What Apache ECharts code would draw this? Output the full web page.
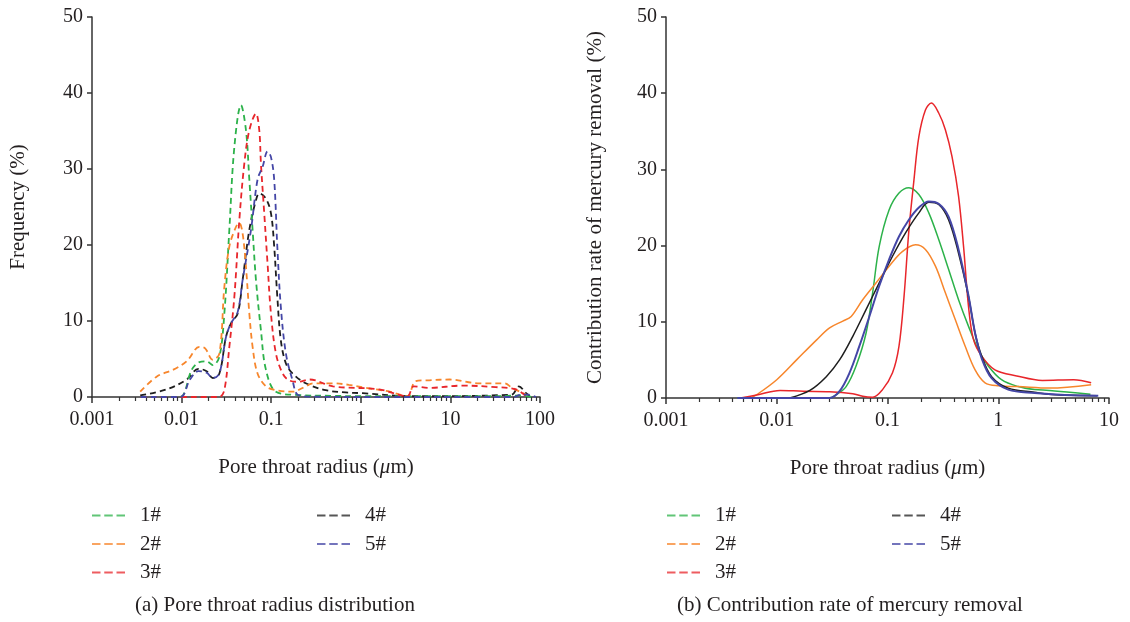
<!DOCTYPE html>
<html>
<head>
<meta charset="utf-8">
<title>Pore throat radius</title>
<script src="https://cdn.jsdelivr.net/npm/echarts@6/dist/echarts.min.js"></script>
<style>
  html, body { margin: 0; padding: 0; background: #fff; }
  #main { width: 1130px; height: 622px; }
</style>
</head>
<body>
<div id="main"></div>
<script>
// (a) pore throat radius distribution, frequency (%)
var names = ['1#', '2#', '3#', '4#', '5#'];
var colors = ['#2cb24a', '#f7862c', '#e8262b', '#1e1e1e', '#4446a6'];
var xTickLabels = ['0.001', '0.01', '0.1', '1', '10', '100'];

var aX1 = [0.0035, 0.006, 0.0096, 0.013, 0.0158, 0.019, 0.0223, 0.0264, 0.030, 0.0341, 0.0388, 0.046, 0.0523, 0.057, 0.062, 0.0676, 0.0768, 0.0873, 0.113, 0.2, 0.5, 1, 3, 10, 30, 60, 80];
var aY1 = [0, 0, 0, 3.6, 4.6, 4.7, 4.2, 5.3, 11, 22, 32.9, 38.4, 35.1, 28.6, 22, 15.4, 8.8, 3.6, 0.7, 0.26, 0.15, 0.1, 0.1, 0.1, 0.1, 0.2, 0];
var aX2 = [0.00345, 0.0053, 0.0081, 0.0114, 0.0158, 0.0183, 0.0223, 0.0264, 0.030, 0.0341, 0.0405, 0.0441, 0.048, 0.0523, 0.057, 0.062, 0.0704, 0.0873, 0.113, 0.173, 0.243, 0.29, 0.48, 0.736, 1.15, 2.1, 3.3, 4.1, 5.8, 9.8, 21, 40, 49, 70];
var aY2 = [0.7, 2.7, 3.6, 4.7, 6.6, 6.4, 4.9, 5.7, 14.5, 19.8, 22.4, 22.9, 21.5, 17.1, 11, 6.6, 3.1, 1.4, 0.9, 0.7, 1.4, 1.8, 1.8, 1.6, 1.2, 0.7, 0.1, 2.1, 2.2, 2.3, 1.8, 1.8, 1.2, 0.3];
var aX3 = [0.0035, 0.01, 0.02, 0.0264, 0.030, 0.0341, 0.0388, 0.0441, 0.0501, 0.057, 0.0676, 0.0736, 0.0768, 0.0836, 0.091, 0.0993, 0.113, 0.134, 0.158, 0.2, 0.269, 0.49, 1.6, 3.3, 3.9, 5.8, 13.6, 32, 54, 70];
var aY3 = [0, 0, 0, 0, 0.9, 6.6, 13.2, 23.3, 30.7, 35.1, 37.3, 35.1, 30.7, 24.2, 17.6, 11, 5.7, 3.1, 2.2, 2.0, 2.3, 1.4, 1.0, 0.1, 1.4, 1.2, 1.5, 1.3, 1.0, 0.1];
var aX4 = [0.00345, 0.0068, 0.0114, 0.0154, 0.019, 0.0223, 0.0264, 0.0313, 0.0356, 0.0423, 0.048, 0.057, 0.0676, 0.0736, 0.0873, 0.0993, 0.108, 0.117, 0.128, 0.146, 0.173, 0.243, 0.406, 0.676, 1.05, 3.7, 48, 58, 70, 78];
var aY4 = [0.2, 1.0, 2.3, 3.7, 3.4, 2.5, 3.1, 7.9, 9.7, 11, 15.4, 22, 25.9, 26.8, 26.1, 24.2, 19.8, 13.2, 7.5, 4.4, 3.1, 1.8, 0.9, 0.6, 0.5, 0.1, 0.3, 1.4, 0.5, 0];
var aX5 = [0.0035, 0.0096, 0.0124, 0.0154, 0.019, 0.0223, 0.0264, 0.0313, 0.0356, 0.0423, 0.048, 0.0595, 0.0704, 0.0802, 0.091, 0.0993, 0.108, 0.117, 0.128, 0.146, 0.173, 0.2, 0.3, 1, 10, 50, 62, 75, 90];
var aY5 = [0, 0, 2.3, 3.4, 3.2, 2.5, 3.1, 7.9, 9.7, 11.2, 15.4, 22, 28.6, 30.3, 32.3, 31.6, 28.6, 19.8, 11.9, 5.7, 2.2, 0.26, 0.05, 0, 0, 0, 0.3, 0.3, 0];

// (b) contribution rate of mercury removal (%)
var bX1 = [0.0044, 0.030, 0.0344, 0.0423, 0.052, 0.064, 0.0734, 0.0842, 0.1035, 0.127, 0.156, 0.192, 0.236, 0.29, 0.356, 0.438, 0.539, 0.662, 0.813, 1.07, 1.51, 2.13, 2.9, 6.8];
var bY1 = [0, 0, 0.44, 1.5, 4.2, 8.5, 13.8, 19.9, 24.7, 26.9, 27.6, 26.7, 24.3, 20.8, 16.9, 12.9, 9.4, 6.3, 4.2, 2.4, 1.5, 1.1, 1.0, 0.5];
var bX2 = [0.0058, 0.0066, 0.01, 0.0151, 0.0228, 0.030, 0.0395, 0.047, 0.0597, 0.0787, 0.1035, 0.136, 0.179, 0.22, 0.271, 0.333, 0.409, 0.503, 0.618, 0.76, 1.0, 1.51, 2.9, 6.9];
var bY2 = [0, 0.44, 2.4, 5.0, 7.6, 9.2, 10.1, 10.7, 12.9, 15.1, 17.3, 19.2, 20.1, 19.5, 17.3, 13.8, 10.3, 6.8, 3.7, 2.0, 1.6, 1.5, 1.3, 1.75];
var bX3 = [0.0047, 0.0066, 0.0107, 0.0173, 0.030, 0.0486, 0.0597, 0.0734, 0.0902, 0.111, 0.127, 0.141, 0.156, 0.173, 0.192, 0.22, 0.249, 0.29, 0.333, 0.382, 0.438, 0.486, 0.539, 0.597, 0.709, 0.933, 1.47, 2.5, 4.8, 6.9];
var bY3 = [0, 0.4, 1.0, 0.88, 0.83, 0.57, 0.22, 0.1, 1.1, 3.3, 6.8, 13.3, 22, 28.5, 34.3, 37.8, 38.7, 37.4, 35.2, 31.7, 26.5, 19.9, 12.0, 7.7, 5.5, 3.7, 2.9, 2.3, 2.4, 2.0];
var bX4 = [0.0131, 0.0199, 0.028, 0.0369, 0.0486, 0.064, 0.0842, 0.111, 0.146, 0.192, 0.236, 0.29, 0.356, 0.438, 0.539, 0.618, 0.709, 0.871, 1.23, 2.13, 3.0, 7.8];
var bY4 = [0, 1.0, 2.8, 5.0, 8.1, 11.6, 15.1, 18.6, 21.7, 24.3, 25.7, 25.4, 23.4, 19.0, 13.3, 8.5, 5.5, 2.8, 1.3, 0.74, 0.45, 0.3];
var bX5 = [0.0044, 0.030, 0.0369, 0.0454, 0.0557, 0.0686, 0.0842, 0.1035, 0.127, 0.156, 0.192, 0.236, 0.29, 0.356, 0.438, 0.539, 0.618, 0.709, 0.871, 1.23, 2.13, 4.0, 8.0];
var bY5 = [0, 0, 0.9, 3.3, 6.8, 10.7, 14.7, 18.2, 21.2, 23.4, 25.0, 25.8, 25.5, 23.8, 19.5, 13.4, 8.5, 5.2, 2.6, 1.1, 0.66, 0.4, 0.3];

(function() {
  'use strict';

  var FONT = 'Liberation Serif';
  var TXT = '#231f20';

  function zip(xs, ys) {
    var out = [];
    for (var i = 0; i < xs.length; i++) {
      out.push([xs[i], ys[i]]);
    }
    return out;
  }

  function fmt(v) {
    for (var i = 0; i < xTickLabels.length; i++) {
      if (Math.abs(Math.log10(v) - Math.log10(+xTickLabels[i])) < 1e-6) {
        return xTickLabels[i];
      }
    }
    return '';
  }

  function xAxis(idx, max) {
    return {
      type: 'log',
      logBase: 10,
      gridIndex: idx,
      min: 0.001,
      max: max,
      name: 'Pore throat radius ({i|μ}m)',
      nameLocation: 'middle',
      nameGap: 60,
      nameTextStyle: {
        fontFamily: FONT, fontSize: 21, color: TXT,
        rich: { i: { fontFamily: FONT, fontStyle: 'italic', fontSize: 21, color: TXT } }
      },
      axisLine: { lineStyle: { color: '#333', width: 1.5 } },
      axisTick: { length: 6, lineStyle: { color: '#333', width: 1.5 } },
      minorTick: { show: true, splitNumber: 9, length: 4, lineStyle: { color: '#333', width: 1.2 } },
      axisLabel: { fontFamily: FONT, fontSize: 20, color: TXT, margin: 13, formatter: fmt },
      splitLine: { show: false },
      minorSplitLine: { show: false }
    };
  }

  function yAxis(idx, name, gap) {
    return {
      type: 'value',
      gridIndex: idx,
      min: 0,
      max: 50,
      interval: 10,
      name: name,
      nameLocation: 'middle',
      nameGap: gap,
      nameTextStyle: { fontFamily: FONT, fontSize: 21, color: TXT },
      axisLine: { show: true, lineStyle: { color: '#333', width: 1.5 } },
      axisTick: { show: true, length: 5, lineStyle: { color: '#333', width: 1.5 } },
      axisLabel: { fontFamily: FONT, fontSize: 20, color: TXT, margin: 9 },
      splitLine: { show: false }
    };
  }

  var aData = [zip(aX1, aY1), zip(aX2, aY2), zip(aX3, aY3), zip(aX4, aY4), zip(aX5, aY5)];
  var bData = [zip(bX1, bY1), zip(bX2, bY2), zip(bX3, bY3), zip(bX4, bY4), zip(bX5, bY5)];

  var series = [];
  for (var i = 0; i < names.length; i++) {
    series.push({
      name: names[i],
      type: 'line',
      xAxisIndex: 0,
      yAxisIndex: 0,
      data: aData[i],
      smooth: 0.35,
      showSymbol: false,
      color: colors[i],
      lineStyle: { width: 1.8, type: [6, 4] },
      z: i === 3 ? 1 : 2
    });
  }
  for (var j = 0; j < names.length; j++) {
    series.push({
      name: names[j],
      type: 'line',
      xAxisIndex: 1,
      yAxisIndex: 1,
      data: bData[j],
      smooth: 0.35,
      showSymbol: false,
      color: colors[j],
      lineStyle: { width: j === 4 ? 2 : 1.5 }
    });
  }

  var dashIcon = 'path://M0,0h9v2h-9z M13,0h9v2h-9z M26,0h9v2h-9z';

  function legend(left, data) {
    return {
      left: left,
      top: 500,
      orient: 'vertical',
      data: data,
      icon: dashIcon,
      itemWidth: 33,
      itemHeight: 2,
      itemGap: 7.5,
      itemStyle: { opacity: 0.75 },
      selectedMode: false,
      textStyle: { fontFamily: FONT, fontSize: 21, color: TXT, lineHeight: 20, padding: [0, 0, 0, 10] }
    };
  }

  var myChart = echarts.init(document.getElementById('main'));

  var option = {
    backgroundColor: '#fff',
    animation: false,
    title: [
      { text: '(a) Pore throat radius distribution', left: 130, top: 590,
        textStyle: { fontFamily: FONT, fontSize: 21, fontWeight: 'normal', color: TXT } },
      { text: '(b) Contribution rate of mercury removal', left: 672, top: 590,
        textStyle: { fontFamily: FONT, fontSize: 21, fontWeight: 'normal', color: TXT } }
    ],
    legend: [
      legend(87, ['1#', '2#', '3#']),
      legend(312, ['4#', '5#']),
      legend(662, ['1#', '2#', '3#']),
      legend(887, ['4#', '5#'])
    ],
    grid: [
      { left: 92, top: 17, width: 448, height: 380 },
      { left: 666, top: 17, width: 443, height: 381 }
    ],
    xAxis: [xAxis(0, 100), xAxis(1, 10)],
    yAxis: [
      yAxis(0, 'Frequency (%)', 63),
      yAxis(1, 'Contribution rate of mercury removal (%)', 60)
    ],
    series: series
  };

  myChart.setOption(option);

}());
</script>
</body>
</html>
